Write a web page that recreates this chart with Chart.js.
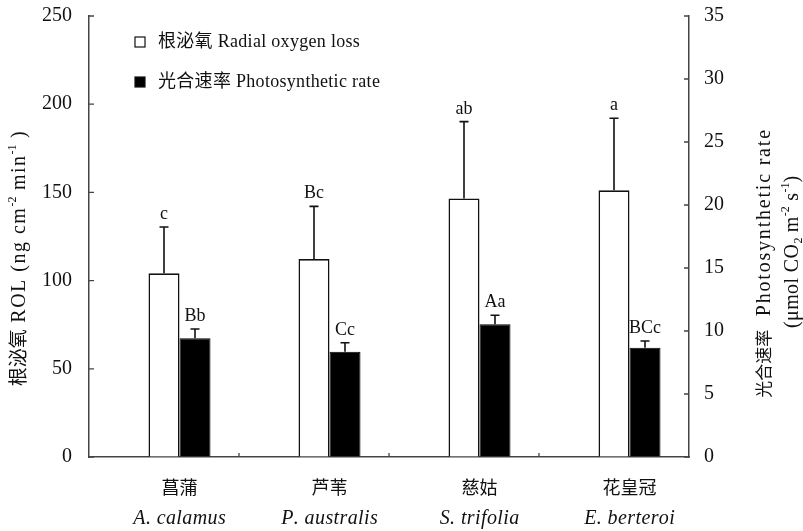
<!DOCTYPE html>
<html>
<head>
<meta charset="utf-8">
<script src="https://cdn.jsdelivr.net/npm/chart.js@4/dist/chart.umd.min.js"></script>
<style>
  html, body { margin: 0; padding: 0; background: #fff; }
  #wrap { width: 803px; height: 531px; }
</style>
</head>
<body>
<div id="wrap"><canvas id="c" width="803" height="531"></canvas></div>
<script>
// Plant species (Chinese name + Latin name)
const categories = ['菖蒲', '芦苇', '慈姑', '花皇冠'];
const species = ['A. calamus', 'P. australis', 'S. trifolia', 'E. berteroi'];

// Radial oxygen loss, ng cm-2 min-1 (left axis)
const rolValues = [104.1, 112.2, 146.6, 151.2];
const rolErrors = [26.3, 29.9, 43.5, 40.8];
const rolLetters = ['c', 'Bc', 'ab', 'a'];

// Photosynthetic rate, umol CO2 m-2 s-1 (right axis)
const pnValues = [9.42, 8.36, 10.53, 8.67];
const pnErrors = [0.74, 0.71, 0.72, 0.54];
const pnLetters = ['Bb', 'Cc', 'Aa', 'BCc'];

// Axis ranges
const rolAxis = { min: 0, max: 250, step: 50 };
const pnAxis = { min: 0, max: 35, step: 5 };

const SERIF = '"Liberation Serif", "Noto Sans CJK SC", serif';
const INK = '#111';
const AXIS = '#444';

function font(size, style) {
  return (style ? style + ' ' : '') + size + 'px ' + SERIF;
}

// width of a string drawn glyph by glyph with extra tracking
function spacedWidth(ctx, text, ls) {
  let w = 0;
  for (const ch of text) w += ctx.measureText(ch).width + ls;
  return w - ls;
}
function spacedText(ctx, text, x, y, ls) {
  for (const ch of text) {
    ctx.fillText(ch, x, y);
    x += ctx.measureText(ch).width + ls;
  }
  return x;
}

// Draw a run of text pieces (with super/subscripts) centred on (cx, cy)
function drawRich(ctx, parts, cx, cy, size, rotate) {
  ctx.save();
  ctx.translate(cx, cy);
  if (rotate) ctx.rotate(-Math.PI / 2);
  const fonts = parts.map(p => font(p.size || (p.sup || p.sub ? Math.round(size * 0.62) : size)));
  const widths = parts.map((p, i) => {
    ctx.font = fonts[i];
    return spacedWidth(ctx, p.t, p.ls || 0) + (p.ls || 0);
  });
  const total = widths.reduce((a, b) => a + b, 0);
  let x = -total / 2;
  ctx.textAlign = 'left';
  ctx.textBaseline = 'alphabetic';
  ctx.fillStyle = INK;
  const base = size * 0.34;
  parts.forEach((p, i) => {
    ctx.font = fonts[i];
    const dy = p.sup ? -size * 0.42 : (p.sub ? size * 0.2 : 0);
    spacedText(ctx, p.t, x, base + dy, p.ls || 0);
    x += widths[i];
  });
  ctx.restore();
}

// Error bars, significance letters, inward tick marks, category labels, legend, axis titles
const decorations = {
  id: 'decorations',
  afterDatasetsDraw(chart) {
    const ctx = chart.ctx;
    const area = chart.chartArea;
    const xs = chart.scales.x;

    // error bars + letters
    chart.data.datasets.forEach((ds, di) => {
      if (!ds.errors) return;
      const meta = chart.getDatasetMeta(di);
      const yScale = chart.scales[ds.yAxisID];
      meta.data.forEach((bar, i) => {
        const top = yScale.getPixelForValue(ds.data[i] + ds.errors[i]);
        ctx.save();
        ctx.strokeStyle = INK;
        ctx.lineWidth = 1.6;
        ctx.beginPath();
        ctx.moveTo(bar.x, bar.y);
        ctx.lineTo(bar.x, top);
        ctx.moveTo(bar.x - 4.5, top);
        ctx.lineTo(bar.x + 4.5, top);
        ctx.stroke();
        ctx.fillStyle = INK;
        ctx.font = font(18);
        ctx.textAlign = 'center';
        ctx.textBaseline = 'alphabetic';
        ctx.fillText(ds.letters[i], bar.x, top - 8);
        ctx.restore();
      });
    });

    ctx.save();
    ctx.strokeStyle = AXIS;
    ctx.lineWidth = 1.3;
    ctx.beginPath();
    // inward ticks, left axis
    chart.scales.y.ticks.forEach(t => {
      const py = chart.scales.y.getPixelForValue(t.value);
      ctx.moveTo(area.left, py);
      ctx.lineTo(area.left + 5, py);
    });
    // inward ticks, right axis
    chart.scales.y2.ticks.forEach(t => {
      const py = chart.scales.y2.getPixelForValue(t.value);
      ctx.moveTo(area.right, py);
      ctx.lineTo(area.right - 5, py);
    });
    // category boundaries on the x axis
    for (let i = 0; i < categories.length - 1; i++) {
      const bx = (xs.getPixelForValue(i) + xs.getPixelForValue(i + 1)) / 2;
      ctx.moveTo(bx, area.bottom);
      ctx.lineTo(bx, area.bottom - 4);
    }
    ctx.stroke();
    ctx.restore();

    // category labels, centred under each pair of bars
    const rolMeta = chart.getDatasetMeta(1);
    const pnMeta = chart.getDatasetMeta(2);
    ctx.save();
    ctx.fillStyle = INK;
    ctx.textAlign = 'left';
    ctx.textBaseline = 'middle';
    categories.forEach((c, i) => {
      const cx = (rolMeta.data[i].x + pnMeta.data[i].x) / 2;
      ctx.font = font(18);
      let w = spacedWidth(ctx, c, 0);
      spacedText(ctx, c, cx - w / 2, 489, 0);
      ctx.font = font(20, 'italic');
      w = spacedWidth(ctx, species[i], 0.4);
      spacedText(ctx, species[i], cx - w / 2, 519, 0.4);
    });
    ctx.restore();

    // legend
    ctx.save();
    const items = [chart.data.datasets[1], chart.data.datasets[2]];
    items.forEach((ds, k) => {
      const y = 42 + k * 40;
      ctx.fillStyle = ds.backgroundColor;
      ctx.strokeStyle = INK;
      ctx.lineWidth = 1.2;
      ctx.fillRect(135, y - 5, 10, 10);
      ctx.strokeRect(135, y - 5, 10, 10);
      ctx.fillStyle = INK;
      ctx.font = font(18);
      ctx.textAlign = 'left';
      ctx.textBaseline = 'middle';
      spacedText(ctx, ds.label, 158, y, 0.3);
    });
    ctx.restore();

    // axis titles
    drawRich(ctx, [
      { t: '根泌氧', size: 19 }, { t: ' ROL (ng cm', ls: 1.5 }, { t: '-2', sup: true },
      { t: ' min', ls: 1.5 }, { t: '-1', sup: true }, { t: ' )', ls: 1.5 }
    ], 18, 258, 20, true);
    drawRich(ctx, [{ t: '光合速率', size: 17 }, { t: '  Photosynthetic rate', ls: 1.8 }], 763, 263, 20, true);
    drawRich(ctx, [
      { t: '(μmol CO', ls: 0.4 }, { t: '2', sub: true }, { t: ' m', ls: 0.4 }, { t: '-2', sup: true },
      { t: ' s', ls: 0.4 }, { t: '-1', sup: true }, { t: ')' }
    ], 791, 252, 20, true);
  }
};

// fixed axis gutters so the plot area spans x 89-689, y 16-457
function fixVertical(width) {
  return s => { s.width = width; s.paddingTop = 0; s.paddingBottom = 0; };
}

new Chart(document.getElementById('c'), {
  type: 'bar',
  data: {
    labels: categories,
    datasets: [
      { label: '', data: categories.map(() => null), yAxisID: 'y' },
      {
        label: '根泌氧 Radial oxygen loss',
        data: rolValues, errors: rolErrors, letters: rolLetters,
        yAxisID: 'y', backgroundColor: '#ffffff', borderColor: INK, borderWidth: 1.6
      },
      {
        label: '光合速率 Photosynthetic rate',
        data: pnValues, errors: pnErrors, letters: pnLetters,
        yAxisID: 'y2', backgroundColor: '#000000', borderColor: '#000000', borderWidth: 1
      }
    ]
  },
  options: {
    responsive: false,
    animation: false,
    layout: { padding: { top: 16, left: 0, right: 0, bottom: 0 } },
    datasets: { bar: { categoryPercentage: 0.62, barPercentage: 1.0 } },
    plugins: { legend: { display: false }, tooltip: { enabled: false } },
    scales: {
      x: {
        type: 'category',
        offset: true,
        grid: { display: false },
        ticks: { display: false },
        border: { display: true, color: AXIS, width: 1.5 },
        afterFit(s) { s.height = 74; s.paddingLeft = 0; s.paddingRight = 0; }
      },
      y: {
        position: 'left',
        min: rolAxis.min, max: rolAxis.max,
        ticks: { stepSize: rolAxis.step, padding: 17, color: INK, font: { family: SERIF, size: 20 } },
        grid: { drawOnChartArea: false, drawTicks: false },
        border: { display: true, color: AXIS, width: 1.5 },
        afterFit: fixVertical(89)
      },
      y2: {
        position: 'right',
        min: pnAxis.min, max: pnAxis.max,
        ticks: { stepSize: pnAxis.step, padding: 15, color: INK, font: { family: SERIF, size: 20 } },
        grid: { drawOnChartArea: false, drawTicks: false },
        border: { display: true, color: AXIS, width: 1.5 },
        afterFit: fixVertical(114)
      }
    }
  },
  plugins: [decorations]
});
</script>
</body>
</html>
